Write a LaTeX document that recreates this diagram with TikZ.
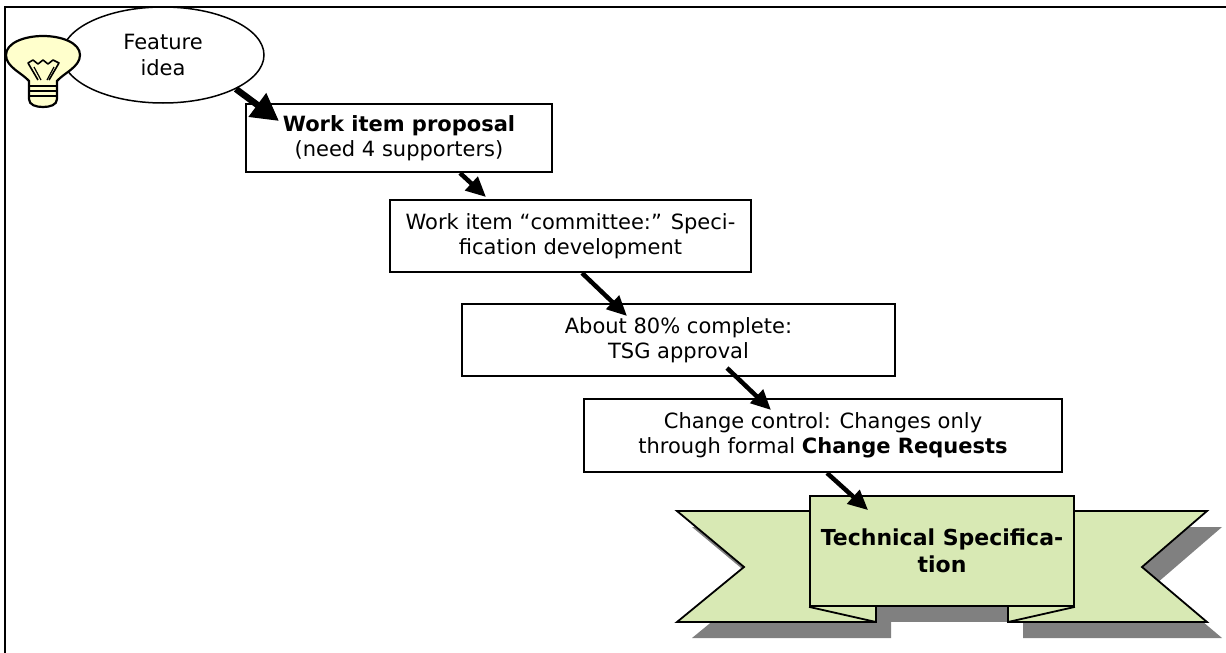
\documentclass[tikz,border=0pt]{standalone}
\usepackage{fontspec}
\setmainfont{DejaVu Sans}
\usetikzlibrary{shapes.geometric, arrows.meta, calc}
\definecolor{ribbongreen}{RGB}{216,233,180}
\definecolor{bulbyellow}{RGB}{255,255,204}
\definecolor{shadowgray}{RGB}{128,128,128}
\tikzset{
  txt/.style={align=center, font=\fontsize{21}{25.5}\selectfont},
  stage/.style={txt, draw, line width=2pt, fill=white, inner sep=0pt},
  flow/.style={-{Triangle[length=20pt, width=18pt]}, line width=4.5pt},
  bigflow/.style={-{Triangle[length=27pt, width=28pt]}, line width=6.5pt},
  ribbon/.style={draw, line width=1.8pt, fill=ribbongreen, line join=miter},
}

\begin{document}
\begin{tikzpicture}[x=1pt, y=-1pt]
    \useasboundingbox (0,0) rectangle (1226,653);
    \draw [line width=2pt] (4.5,653) -- (4.5,6.5) -- (1226,6.5);

    % idea and the light bulb
    \node [txt, ellipse, draw, line width=1.5pt, fill=white, minimum width=202, minimum height=96] (idea) at (163,55) {Feature\\idea};
    \draw [line width=2.2pt, fill=bulbyellow] (29,81) .. controls (22,73) and (6,67) .. (6,55)
        .. controls (6,43) and (24,36) .. (43,36) .. controls (62,36) and (80,43) .. (80,55)
        .. controls (80,67) and (64,73) .. (57,81) -- (57,99) .. controls (57,105) and (50,107) .. (43,107)
        .. controls (36,107) and (29,105) .. (29,99) -- cycle;
    \draw [line width=1.6pt, line join=round] (38,80) -- (28,63) -- (33,60) -- (38,64) -- (43,60) -- (48,64) -- (53,60) -- (59,63) -- (49,80);
    \draw [line width=1.2pt] (34,67) -- (41,80) (54,67) -- (47,80);
    \foreach \y in {86,91,96}
        \draw [line width=2.4pt] (29,\y) -- (57,\y);

    % stages
    \node [stage, minimum width=306, minimum height=68] (prop) at (399,138) {\textbf{Work item proposal}\\(need 4 supporters)};
    \node [stage, minimum width=361, minimum height=72] (dev) at (570.5,236) {Work item “committee:” Speci-\\fication development};
    \node [stage, minimum width=433, minimum height=72] (appr) at (678.5,340) {About 80\% complete:\\TSG approval};
    \node [stage, minimum width=478, minimum height=73] (cc) at (823,435.5) {Change control: Changes only\\through formal \textbf{Change Requests}};

    % ribbon with its shadow
    \fill [shadowgray] (692,527) -- (891,527) -- (891,638) -- (692,638) -- (759,583) -- cycle;
    \fill [shadowgray] (1222,527) -- (1023,527) -- (1023,638) -- (1222,638) -- (1157,583) -- cycle;
    \fill [shadowgray] (825,512) rectangle (1089,622);
    \draw [ribbon] (677,511) -- (876,511) -- (876,622) -- (677,622) -- (744,567) -- cycle;
    \draw [ribbon] (1207,511) -- (1008,511) -- (1008,622) -- (1207,622) -- (1142,567) -- cycle;
    \node [txt, ribbon, font=\fontsize{22}{27}\selectfont, minimum width=264, minimum height=110, inner sep=0pt] (spec) at (942,551) {\textbf{Technical Specifica-}\\\textbf{tion}};
    \draw [line width=1.8pt] (spec.south west) -- (876,622);
    \draw [line width=1.8pt] (spec.south east) -- (1008,622);

    % arrows
    \draw [bigflow] (idea.-25) -- ($(prop.north west)+(34,18)$);
    \draw [flow] ($(prop.south)+(61,0)$) -- ($(dev.north west)+(97,-2)$);
    \draw [flow] ($(dev.south)+(11.5,0)$) -- ($(appr.north west)+(166,13)$);
    \draw [flow] ($(appr.south)+(48.5,-9)$) -- ($(cc.north west)+(188,12)$);
    \draw [flow] ($(cc.south)+(4,0)$) -- ($(spec.north west)+(59,15)$);
\end{tikzpicture}
\end{document}
